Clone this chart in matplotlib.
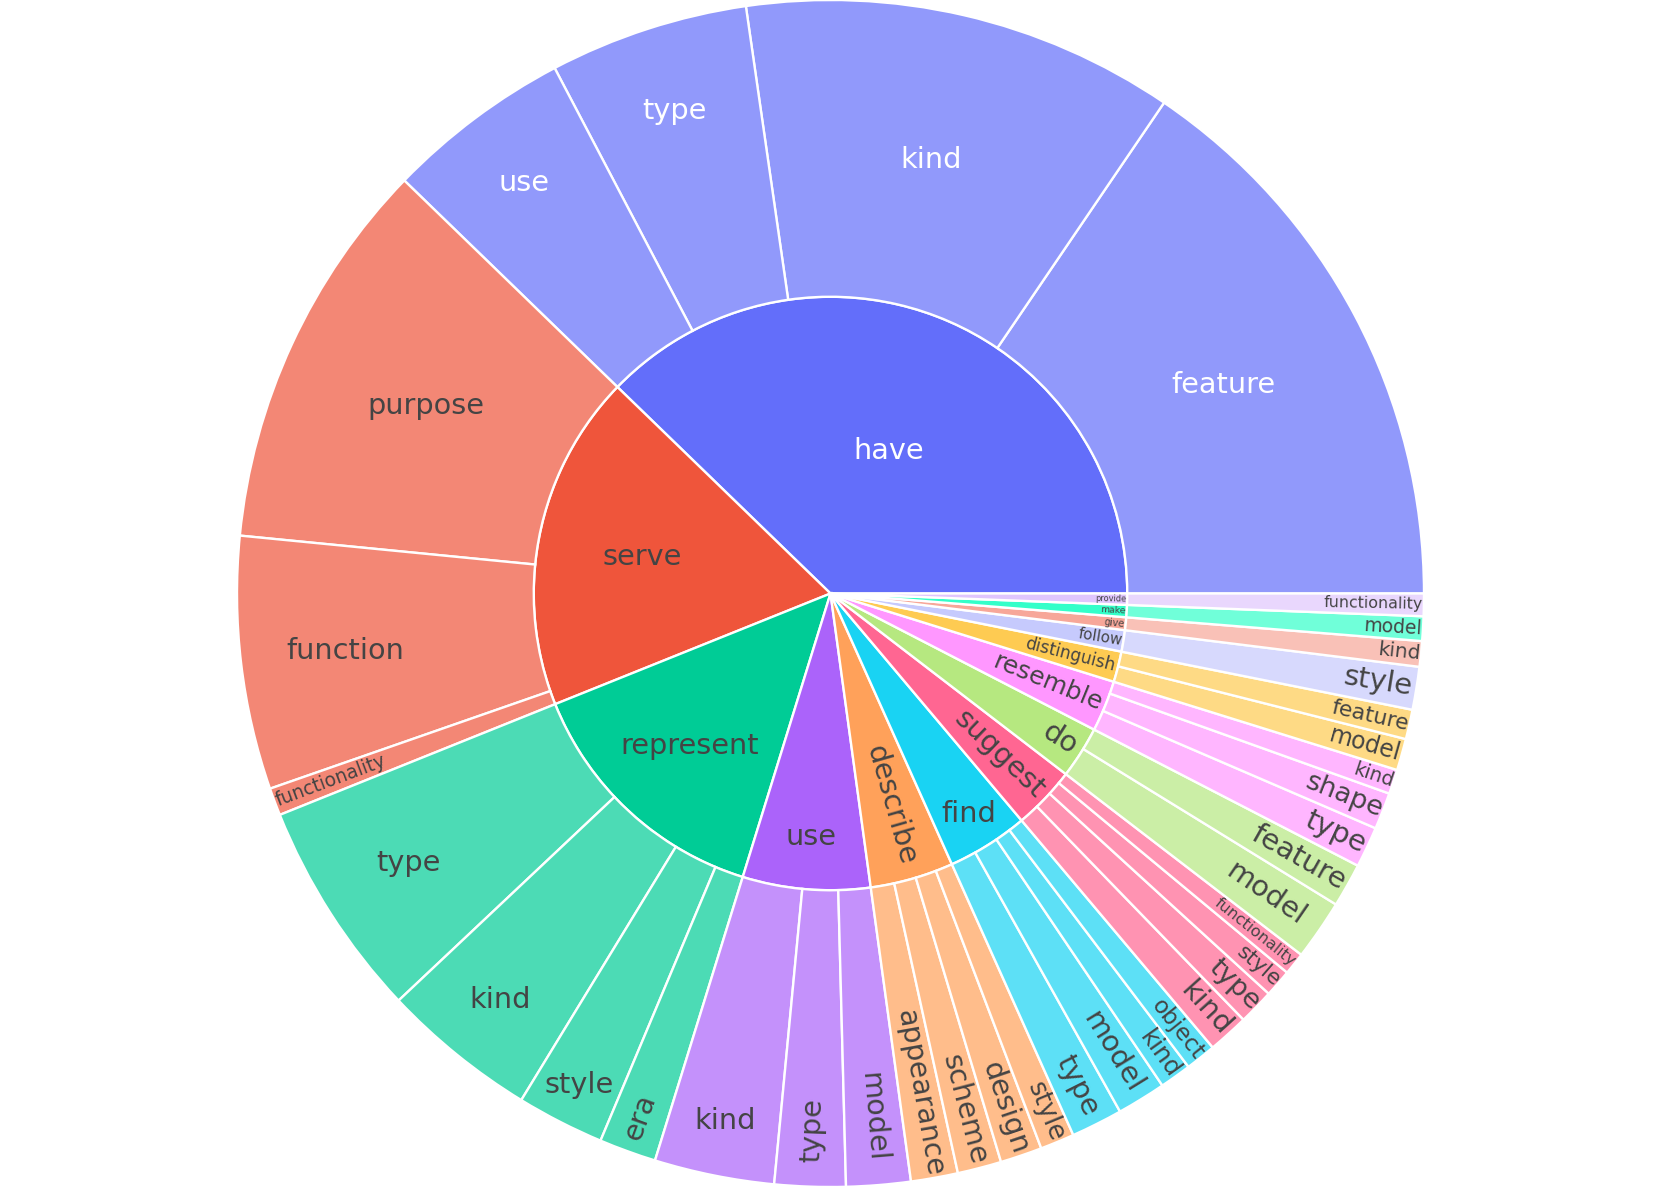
import colorsys
import matplotlib
matplotlib.use("Agg")
import matplotlib.pyplot as plt
import matplotlib.colors as mcolors
import numpy as np

# inner ring (verbs) and outer ring (verb -> noun) values
verbs = ['have', 'serve', 'represent', 'use', 'describe', 'find', 'suggest',
         'do', 'resemble', 'distinguish', 'follow', 'give', 'make', 'provide']

leaf_verbs = ['have'] * 4 + ['serve'] * 3 + ['represent'] * 4 + ['use'] * 3 \
    + ['describe'] * 4 + ['find'] * 4 + ['suggest'] * 4 + ['do'] * 2 \
    + ['resemble'] * 3 + ['distinguish'] * 2 + ['follow', 'give', 'make', 'provide']

leaf_nouns = ['feature', 'kind', 'type', 'use',
              'purpose', 'function', 'functionality',
              'type', 'kind', 'style', 'era',
              'kind', 'type', 'model',
              'appearance', 'scheme', 'design', 'style',
              'type', 'model', 'kind', 'object',
              'kind', 'type', 'style', 'functionality',
              'model', 'feature',
              'type', 'shape', 'kind',
              'model', 'feature',
              'style', 'kind', 'model', 'functionality']

leaf_values = [55.8, 42.4, 19.5, 18.2,
               38.5, 24.8, 2.7,
               21.4, 15.3, 8.6, 5.6,
               11.75, 6.95, 6.3,
               4.6, 4.3, 4.1, 3.35,
               5.05, 4.8, 3.1, 3.0,
               4.0, 3.5, 2.7, 2.2,
               5.9, 4.3,
               4.0, 3.6, 2.4,
               3.1, 2.9,
               4.2, 2.5, 2.4, 2.2]

palette = ['#636EFA', '#EF553B', '#00CC96', '#AB63FA', '#FFA15A',
           '#19D3F3', '#FF6692', '#B6E880', '#FF97FF', '#FECB52']

W_PX, H_PX = 1661, 1187
R_PX = H_PX / 2
FS_PX = 28.8
PAD = 7.2


def lighten(c, amount=0.2):
    r, g, b = mcolors.to_rgb(c)
    h, l, s = colorsys.rgb_to_hls(r, g, b)
    return colorsys.hls_to_rgb(h, min(1.0, l + amount), s)


def text_color(c):
    r, g, b = mcolors.to_rgb(c)
    bright = (299 * r + 587 * g + 114 * b) * 255 / 1000
    return '#444444' if bright >= 128 else 'white'


def upright(deg):
    return ((deg + 90) % 180) - 90


def max_half(a, half, r, ring):
    q = a + 1 / (2 * np.tan(half))
    return r * min(1 / (np.sqrt(q * q + 0.5) + q),
                   ring / (np.sqrt(a * a + ring / 2) + a))


ext_colors = palette + [mcolors.to_hex(lighten(c)) for c in palette]
verb_colors = {v: ext_colors[i] for i, v in enumerate(verbs)}
verb_totals = [sum(val for lv, val in zip(leaf_verbs, leaf_values) if lv == v) for v in verbs]

fig = plt.figure(figsize=(W_PX / 100, H_PX / 100), dpi=100)
ax = fig.add_axes([0, 0, 1, 1])

inner, _ = ax.pie(verb_totals, radius=0.5, startangle=0, counterclock=True,
                  colors=[verb_colors[v] for v in verbs],
                  wedgeprops=dict(width=0.5, edgecolor='white', linewidth=1.7))
outer, _ = ax.pie(leaf_values, radius=1.0, startangle=0, counterclock=True,
                  colors=[mcolors.to_rgba(verb_colors[v], 0.7) for v in leaf_verbs],
                  wedgeprops=dict(width=0.5, edgecolor='white', linewidth=1.7))

ax.set_xlim(-W_PX / 2 / R_PX, W_PX / 2 / R_PX)
ax.set_ylim(-H_PX / 2 / R_PX, H_PX / 2 / R_PX)
ax.set_aspect('equal')
ax.axis('off')

renderer = fig.canvas.get_renderer()
FS_PT = FS_PX * 72 / 100


def place_label(label, wedge, r0, r1, color):
    t1, t2 = wedge.theta1, wedge.theta2
    half = np.radians(t2 - t1) / 2
    mid = (t1 + t2) / 2
    tmp = ax.text(0, 0, label, fontsize=FS_PT)
    w = tmp.get_window_extent(renderer).width
    tmp.remove()
    h = 1.164 * FS_PX
    ring = 1 - r0 / r1
    r_ins = min(np.sin(half) / (1 + np.sin(half)), ring / 2)
    opts = [(r_ins * r1 * 2 / np.hypot(w, h), r1 * (1 - r_ins), 0.0)]
    if opts[0][0] < 1:
        rp = r1 - 2 * PAD
        for a, size, rot in [(h / w, w, upright(mid + 90)), (w / h, h, upright(mid))]:
            s = max_half(a, half, rp, ring)
            b = s / rp
            opts.append((2 * s / size, r1 * (np.cos(b) - a * b), rot))
    scale, rc, rot = max(opts, key=lambda o: o[0])
    fs = FS_PT * min(1.0, scale)
    x = rc * np.cos(np.radians(mid)) / R_PX
    y = rc * np.sin(np.radians(mid)) / R_PX
    ax.text(x, y, label, fontsize=fs, color=text_color(color), rotation=rot,
            rotation_mode='anchor', ha='center', va='center')


for v, wdg in zip(verbs, inner):
    place_label(v, wdg, 0.0, R_PX / 2, verb_colors[v])

for v, n, wdg in zip(leaf_verbs, leaf_nouns, outer):
    place_label(n, wdg, R_PX / 2, R_PX, verb_colors[v])

fig.savefig('out.png', dpi=100, facecolor='white')
